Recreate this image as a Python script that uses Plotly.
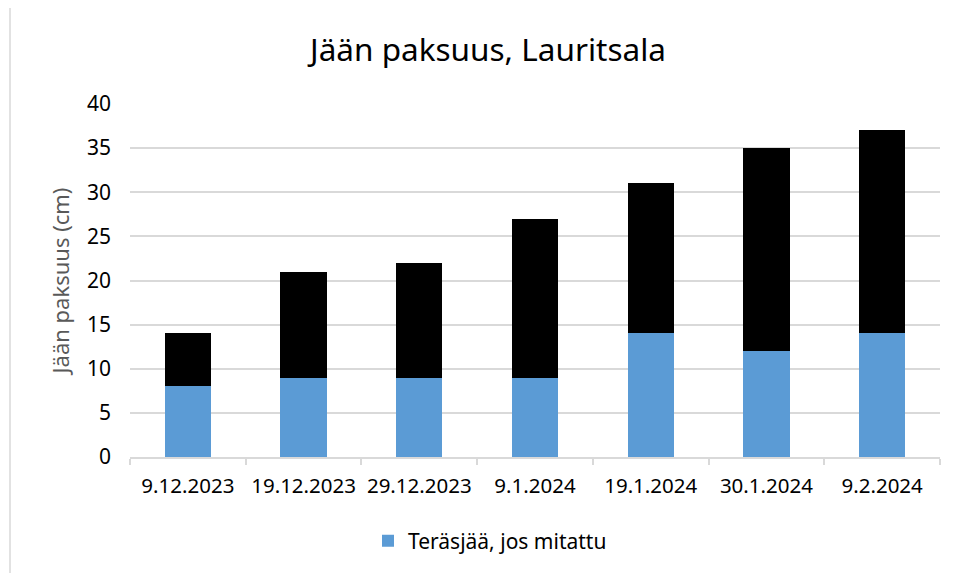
import plotly.graph_objects as go

dates = ["9.12.2023", "19.12.2023", "29.12.2023", "9.1.2024", "19.1.2024", "30.1.2024", "9.2.2024"]
total_thickness = [14, 21, 22, 27, 31, 35, 37]
clear_ice = [8, 9, 9, 9, 14, 12, 14]
other_ice = [t - c for t, c in zip(total_thickness, clear_ice)]

FONT = "Noto Sans"

fig = go.Figure()
fig.add_trace(go.Bar(x=dates, y=clear_ice, name="Teräsjää, jos mitattu",
                     marker=dict(color="#5b9bd5", line=dict(width=0))))
fig.add_trace(go.Bar(x=dates, y=other_ice, name="Muu jää", showlegend=False,
                     marker=dict(color="#000000", line=dict(width=0))))

OFF = 8  # page offset of the plot div
W, H = 958, 573
L, R, T, B = 130 - OFF, 18 + OFF, 104 - OFF, 116 + OFF
pw, ph = W - L - R, H - T - B

fig.update_layout(
    width=W, height=H,
    barmode="stack", bargap=0.6,
    paper_bgcolor="white", plot_bgcolor="white",
    margin=dict(l=L, r=R, t=T, b=B, autoexpand=False),
    font=dict(family=FONT, color="#000000", size=21),
    title=dict(text="Jään paksuus, Lauritsala", font=dict(size=31.5, color="#000000"),
               x=(488 - OFF) / W, xref="container", xanchor="center",
               y=1 - (50 - OFF) / H, yref="container", yanchor="middle"),
    legend=dict(orientation="h", x=(490 - OFF) / W, xref="container", xanchor="center",
                y=1 - (541 - OFF) / H, yref="container", yanchor="middle",
                font=dict(size=21, color="#000000"), itemwidth=30),
    xaxis=dict(showgrid=False, showline=True, linecolor="#d9d9d9", linewidth=1.5,
               ticks="outside", tickson="boundaries", ticklen=6, tickcolor="#d9d9d9",
               tickwidth=1.5, tickangle=0, tickfont=dict(size=20.5, color="#000000"),
               ticklabelstandoff=10),
    yaxis=dict(range=[0, 40], dtick=5, showgrid=True, gridcolor="#d9d9d9", gridwidth=1.5,
               zeroline=False, showline=False, ticks="", ticklabelstandoff=18,
               tickfont=dict(size=21, color="#000000"),
               title=dict(text="Jään paksuus (cm)", font=dict(size=22, color="#595959"), standoff=11)),
    shapes=[dict(type="rect", xref="paper", yref="paper",
                 x0=(10 - OFF - L) / pw, x1=(W + 20 - L) / pw,
                 y0=-(H + 20 - T - ph) / ph, y1=1 + (T - (5 - OFF)) / ph,
                 line=dict(color="#d9d9d9", width=1.5), fillcolor="rgba(0,0,0,0)", layer="below")],
)

fig.write_html("out.html")
